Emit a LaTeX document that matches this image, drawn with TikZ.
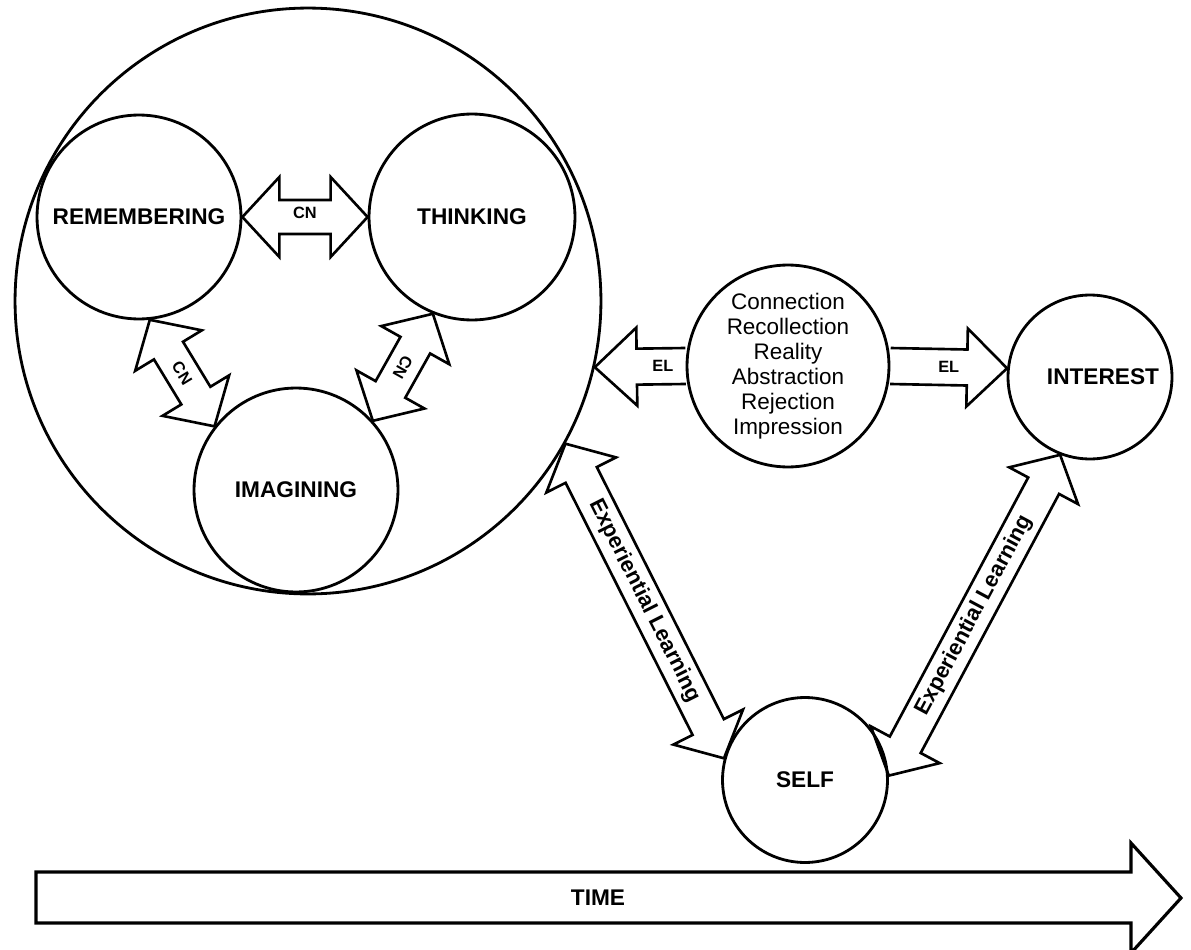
\documentclass[tikz,border=0pt]{standalone}
\usepackage{fontspec}
\setmainfont{Liberation Sans}
\usetikzlibrary{calc}
% double-headed block arrow: #1 tip A, #2 tip B, #3 head length, #4 head half width, #5 body half width
\newcommand\dblarrow[5]{%
  \coordinate (da1) at ($(#1)!#3!(#2)$);
  \coordinate (da2) at ($(#2)!#3!(#1)$);
  \draw[blk] (#1) -- ($(da1)!#4!90:(#2)$) -- ($(da1)!#5!90:(#2)$)
    -- ($(da2)!#5!-90:(#1)$) -- ($(da2)!#4!-90:(#1)$) -- (#2)
    -- ($(da2)!#4!90:(#1)$) -- ($(da2)!#5!90:(#1)$)
    -- ($(da1)!#5!-90:(#2)$) -- ($(da1)!#4!-90:(#2)$) -- cycle;}
% single-headed block arrow, open tail: #1 tail, #2 tip
\newcommand\sglarrow[5]{%
  \coordinate (sa) at ($(#2)!#3!(#1)$);
  \draw[blk] ($(#1)!#5!90:(#2)$) -- ($(sa)!#5!90:(#2)$) -- ($(sa)!#4!90:(#2)$)
    -- (#2) -- ($(sa)!#4!-90:(#2)$) -- ($(sa)!#5!-90:(#2)$) -- ($(#1)!#5!-90:(#2)$);}
\begin{document}
\begin{tikzpicture}[x=0.02cm,y=-0.02cm,
  circ/.style={draw, circle, line width=1.6pt, inner sep=0pt},
  blk/.style={draw, line width=1.5pt, line join=miter},
  lbl/.style={font=\fontsize{12.9}{15}\selectfont\bfseries},
  small/.style={font=\fontsize{9.3}{11}\selectfont\bfseries, inner sep=0pt},
  exptext/.style={font=\fontsize{12.5}{14}\selectfont\bfseries, inner sep=0pt}]
\useasboundingbox (0,0) rectangle (1191,950);
% circles
\node[circ, minimum size=11.72cm] (big) at (308,301) {};
\node[circ, minimum size=4.08cm, lbl] (rem) at (139,217) {REMEMBERING};
\node[circ, minimum size=4.12cm, lbl] (thk) at (472,217) {THINKING};
\node[circ, minimum size=4.08cm, lbl] (img) at (296,490) {IMAGINING};
\node[circ, minimum size=4.04cm, align=center, font=\fontsize{12.8}{14.2}\selectfont] (mid) at (788,366)
  {Connection\\Recollection\\Reality\\Abstraction\\Rejection\\Impression};
\node[circ, minimum size=3.28cm] (int) at (1090,377) {};
\node[lbl] (inttext) at (1103,377) {INTEREST};
\node[circ, minimum size=3.3cm, lbl] (self) at (805,780) {SELF};
% CN arrows
\dblarrow{rem.east}{thk.west}{0.74cm}{0.8cm}{0.34cm}
\dblarrow{rem.-84}{img.142}{0.72cm}{0.78cm}{0.34cm}
\dblarrow{thk.-112}{img.42}{0.72cm}{0.78cm}{0.34cm}
\path (rem.east) -- (thk.west) node[small, midway, yshift=0.08cm] (cn1) {CN};
\path (rem.-84) -- (img.142) node[small, midway, sloped] (cn2) {CN};
\path (thk.-112) -- (img.42) node[small, midway, sloped, allow upside down] (cn3) {CN};
% EL arrows
\sglarrow{mid.west}{big.-13}{0.84cm}{0.78cm}{0.36cm}
\sglarrow{mid.east}{int.174}{0.8cm}{0.78cm}{0.36cm}
\path (mid.west) -- (big.-13) node[small, pos=0.25] (el1) {EL};
\path (mid.east) -- (int.174) node[small, midway] (el2) {EL};
% Experiential learning arrows
\dblarrow{big.-29}{self.165}{0.7cm}{0.78cm}{0.35cm}
\dblarrow{self.3}{int.-111}{0.7cm}{0.78cm}{0.35cm}
\path (big.-29) -- (self.165) node[exptext, midway, sloped] (ex1) {Experiential Learning};
\path (self.3) -- (int.-111) node[exptext, midway, sloped] (ex2) {Experiential Learning};
% TIME arrow
\coordinate (t0) at (36,898);
\coordinate (t1) at (1181,898);
\draw[blk, line width=1.8pt] (t0 |- 0,872) -- (1131,872) -- (1131,843) -- (t1) -- (1131,953)
  -- (1131,923) -- (t0 |- 0,923) -- cycle;
\node[lbl] (time) at (598,898) {TIME};
\end{tikzpicture}
\end{document}
